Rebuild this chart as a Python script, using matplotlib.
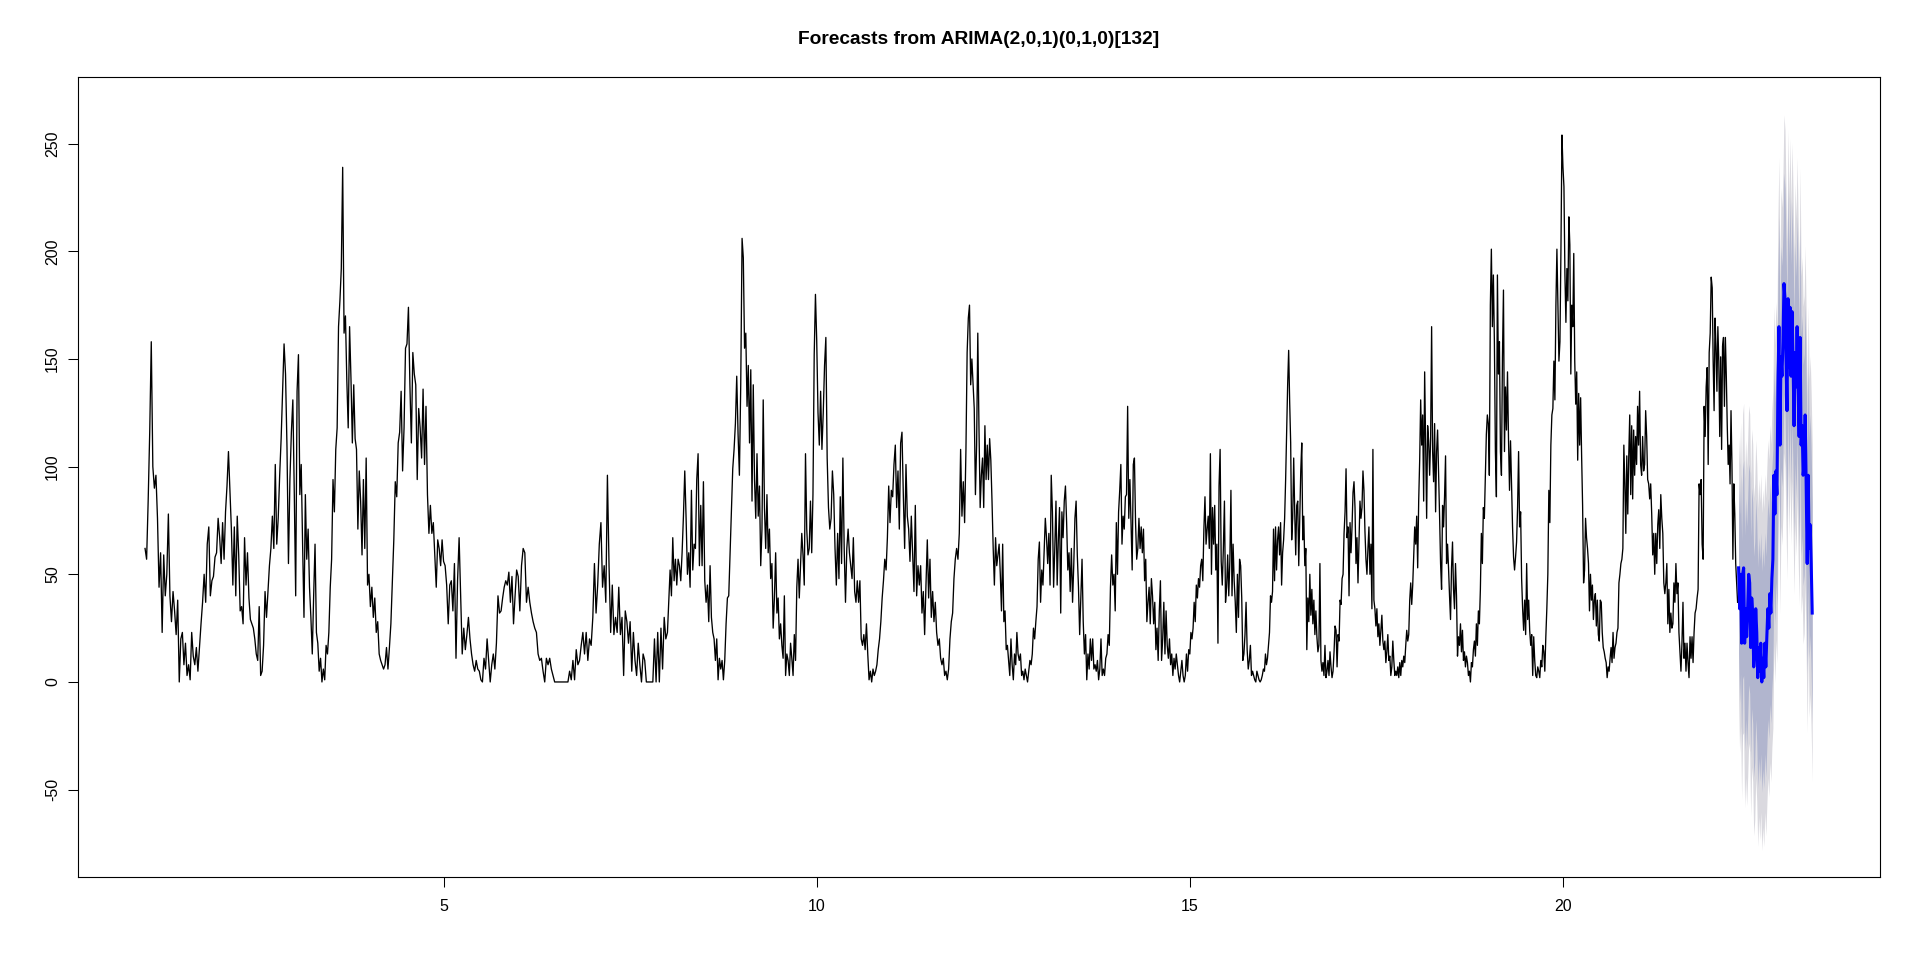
import numpy as np
import matplotlib.pyplot as plt

plt.rcParams['font.family'] = ['Liberation Sans', 'DejaVu Sans']

# observed series, one list per season (frequency 1 unit on the x axis),
# values read off the reference picture
s01 = [62, 57, 84, 116, 158, 100, 90, 96, 76, 44, 60, 23, 59, 40, 50, 78, 40, 28, 42, 33,
       22, 38, 0, 20, 23, 8, 18, 3, 8, 1, 23, 12, 8, 16, 5, 16, 27, 37, 50, 37,
       64, 72, 40, 47, 49, 58, 60, 76]
s02 = [67, 55, 74, 57, 79, 91, 107, 89, 71, 45, 72, 40, 77, 59, 33, 35, 27, 67, 45, 60,
       39, 29, 27, 25, 20, 13, 10, 35, 3, 5, 17, 42, 30, 42, 54, 62, 77, 62, 101, 64,
       76, 96, 113, 135, 157, 143, 109, 55, 94, 116, 131]
s03 = [87, 40, 135, 152, 87, 101, 64, 30, 87, 57, 71, 44, 30, 13, 40, 64, 23, 18, 5, 11,
       0, 6, 1, 17, 13, 23, 44, 57, 94, 79, 108, 118, 165, 177, 192, 239, 162, 170, 140, 118,
       165, 141, 111, 138, 113, 108, 71, 98, 84, 59, 94, 62, 104, 45]
s04 = [50, 35, 44, 30, 39, 23, 28, 13, 10, 8, 6, 8, 16, 6, 16, 27, 47, 66, 93, 86,
       111, 116, 135, 98, 118, 155, 157, 174, 138, 111, 153, 143, 138, 94, 127, 118, 104, 136, 101, 128,
       87, 69, 82, 69, 74, 59, 44, 66, 62, 54, 66]
s05 = [56, 54, 45, 27, 45, 47, 33, 55, 11, 47, 67, 39, 13, 25, 15, 22, 30, 20, 13, 8,
       5, 10, 6, 5, 1, 0, 11, 6, 20, 10, 0, 8, 13, 6, 18, 40, 32, 33, 39, 44,
       47, 45, 51, 37, 49, 27, 40, 52]
s06 = [49, 33, 54, 62, 60, 37, 44, 37, 32, 28, 25, 23, 13, 10, 11, 5, 0, 11, 8, 11,
       6, 3, 0, 0, 0, 0, 0, 0, 0, 0, 0, 5, 1, 10, 1, 15, 8, 10, 17, 23,
       13, 23, 10, 20, 17]
s07 = [30, 55, 32, 45, 64, 74, 44, 54, 37, 96, 54, 23, 45, 22, 30, 23, 44, 22, 30, 3,
       33, 28, 18, 28, 5, 23, 10, 3, 18, 8, 0, 13, 10, 0, 0, 0, 0, 0, 20, 0,
       23, 0, 25, 6, 30, 20]
s08 = [23, 37, 52, 40, 67, 47, 57, 45, 57, 54, 47, 60, 77, 98, 76, 50, 60, 44, 89, 52,
       64, 62, 94, 106, 54, 82, 54, 93, 47, 37, 45, 28, 54, 30, 23, 20, 10, 20, 1, 11,
       6, 10, 1, 10, 27, 39, 40, 60, 79, 99, 108, 120, 142, 115, 96, 138]
s09 = [206, 197, 155, 162, 128, 147, 111, 145, 84, 138, 94, 76, 106, 77, 91, 54, 71, 131, 81, 62,
       87, 60, 71, 48, 55, 25, 39, 60, 32, 39, 20, 27, 17, 11, 40, 3, 13, 10, 3, 18,
       11, 3, 22, 10, 44, 57, 39, 54, 69, 59, 45, 106, 71, 59, 62, 84, 60, 87, 152, 180]
s10 = [159, 125, 110, 135, 108, 125, 147, 160, 104, 81, 71, 76, 98, 87, 62, 45, 69, 48, 86, 55,
       104, 62, 37, 62, 71, 60, 54, 48, 67, 42, 37, 47, 37, 47, 20, 17, 22, 15, 27, 13,
       1, 5, 0, 6, 3, 5, 8, 15, 20, 28, 39, 47, 57, 52, 67, 91, 74]
s11 = [89, 86, 101, 110, 81, 98, 71, 111, 116, 87, 62, 101, 77, 71, 56, 77, 60, 42, 82, 40,
       54, 45, 54, 32, 42, 22, 45, 66, 39, 57, 30, 42, 28, 37, 23, 17, 20, 11, 8, 11,
       3, 5, 1, 6, 20, 28, 32, 48, 57, 62, 57, 69, 108, 77, 93, 74]
s12 = [108, 153, 169, 175, 138, 150, 138, 127, 87, 110, 162, 118, 81, 96, 104, 81, 119, 94, 110, 94,
       113, 103, 84, 62, 45, 67, 54, 59, 64, 50, 33, 64, 28, 33, 15, 17, 10, 3, 20, 8,
       1, 13, 8, 23, 13, 10, 13, 3, 5, 1, 6, 3, 0, 5, 10, 8, 13, 25, 20, 28,
       35, 57, 65]
s13 = [37, 52, 45, 60, 76, 67, 55, 69, 45, 96, 79, 44, 62, 84, 45, 66, 81, 32, 79, 67,
       84, 91, 74, 52, 60, 42, 62, 37, 54, 76, 84, 59, 44, 22, 40, 57, 28, 13, 22, 1,
       13, 6, 20, 10, 20, 6, 8, 5, 10, 1, 6, 20, 3, 6, 3, 11, 13, 22, 17, 44,
       59, 45, 50]
s14 = [33, 74, 50, 79, 89, 101, 64, 77, 71, 86, 87, 128, 76, 94, 74, 52, 101, 104, 74, 57,
       62, 76, 62, 72, 60, 71, 47, 57, 28, 37, 44, 27, 48, 40, 27, 37, 15, 25, 10, 33,
       47, 10, 20, 37, 13, 33, 17, 11, 20, 8, 13, 3, 11, 6, 13, 8, 3, 0, 5, 10,
       3, 0, 3, 13, 5, 15]
s15 = [13, 23, 20, 25, 37, 28, 45, 39, 48, 44, 54, 57, 47, 71, 86, 64, 71, 77, 62, 106,
       50, 81, 64, 82, 52, 64, 18, 91, 108, 56, 45, 62, 84, 37, 44, 59, 40, 56, 89, 40,
       64, 47, 37, 23, 50, 30, 57, 54, 39, 10, 13, 22, 37, 15, 6, 10, 17, 3, 5, 3,
       1, 0, 5, 3, 1, 0, 1, 3, 6]
s16 = [5, 13, 8, 11, 17, 23, 40, 37, 42, 71, 47, 72, 52, 66, 72, 59, 74, 45, 60, 66,
       76, 94, 115, 138, 154, 130, 111, 66, 76, 104, 79, 59, 82, 84, 54, 77, 98, 111, 66, 77,
       54, 62, 15, 39, 28, 50, 31, 43, 27, 38, 22, 33, 21, 14, 17, 55, 10, 5, 9, 3,
       17, 2, 5, 10, 3, 14, 7, 2, 5, 14, 26, 24, 7, 22]
s17 = [19, 38, 36, 48, 50, 69, 79, 99, 67, 72, 40, 74, 60, 72, 88, 93, 81, 55, 67, 46,
       65, 84, 76, 81, 98, 89, 70, 57, 50, 62, 72, 50, 64, 34, 108, 38, 34, 26, 34, 21,
       27, 17, 24, 31, 19, 15, 19, 9, 14, 22, 10, 12, 3, 7, 19, 10, 3, 5, 3, 7,
       2, 9, 3, 10, 7, 12, 9, 17, 24, 19, 22, 38, 46, 36, 45]
s18 = [58, 72, 64, 77, 53, 84, 103, 131, 110, 124, 84, 144, 110, 76, 119, 112, 96, 113, 165, 107,
       93, 120, 79, 107, 117, 98, 77, 55, 43, 82, 72, 86, 105, 55, 64, 53, 40, 29, 53, 65,
       43, 34, 55, 40, 12, 21, 17, 27, 14, 24, 10, 14, 7, 12, 9, 3, 5, 0, 9, 7,
       15, 19, 12, 27, 17, 33, 27, 43, 69, 55, 81, 76, 95, 115, 124]
s19 = [120, 96, 175, 201, 165, 189, 158, 107, 86, 189, 143, 158, 107, 96, 151, 182, 107, 137, 117, 144,
       113, 89, 112, 93, 72, 58, 52, 58, 65, 81, 107, 72, 79, 48, 34, 24, 38, 22, 55, 29,
       38, 24, 17, 22, 3, 21, 10, 3, 2, 7, 5, 2, 10, 7, 17, 14, 5, 21, 34, 50,
       89, 74, 110, 124, 127, 149, 131, 175, 201, 175, 149, 158, 201, 254]
s20 = [239, 230, 189, 167, 192, 177, 216, 203, 143, 175, 165, 199, 149, 129, 144, 103, 134, 110, 132, 105,
       82, 46, 52, 76, 67, 62, 55, 33, 50, 38, 45, 29, 38, 41, 26, 38, 22, 19, 38, 37,
       23, 16, 14, 11, 9, 2, 7, 5, 11, 16, 9, 23, 11, 16, 18, 23, 25, 46, 50, 55,
       57, 62, 110, 92, 69, 105, 78, 105, 124, 87, 119, 85, 117, 96, 114, 101]
s21 = [128, 110, 135, 101, 96, 114, 98, 101, 126, 114, 94, 92, 85, 92, 78, 59, 69, 50, 69, 55,
       73, 80, 62, 87, 76, 69, 46, 41, 46, 55, 27, 43, 23, 32, 25, 27, 46, 37, 55, 41,
       46, 23, 14, 5, 18, 37, 11, 18, 5, 18, 9, 2, 21, 11, 21, 9, 23, 32, 34, 39,
       43, 92, 87, 94, 64, 57, 128, 114, 137, 146, 101, 153, 162, 188]
# last, incomplete season (22.0 .. 22.34)
s22 = [183, 149, 126, 169, 156, 135, 165, 149, 114, 151, 108, 156, 160, 128, 160, 142, 119, 101, 110, 92,
       126, 101, 57, 92, 78, 55, 46, 37]

seasons = [s01, s02, s03, s04, s05, s06, s07, s08, s09, s10, s11,
           s12, s13, s14, s15, s16, s17, s18, s19, s20, s21]

# point forecasts (22.35 .. 23.35)
fc_mean = [53, 34, 50, 18, 50, 53, 18, 34, 21, 34, 50, 46, 16, 39, 32, 7, 14, 34, 23, 2,
           16, 5, 18, 0, 11, 2, 18, 7, 21, 34, 25, 41, 32, 48, 57, 96, 78, 98, 87, 137,
           165, 110, 151, 142, 158, 185, 178, 151, 126, 178, 146, 174, 142, 172, 149, 119, 153, 137, 165, 137,
           114, 160, 110, 119, 96, 101, 124, 92, 55, 96, 62, 73, 55, 32]
# forecast standard error per step
fc_sigma = [31, 34, 36, 37, 38, 39, 39, 40, 40, 40,
            40, 40, 40, 40, 40, 40, 40, 40, 40, 40,
            40, 40, 40, 40, 40, 40, 40, 40, 40, 40,
            40, 40, 40, 40, 40, 40, 40, 40, 40, 40,
            40, 40, 40, 40, 40, 40, 40, 40, 40, 40,
            40, 40, 40, 40, 40, 40, 40, 40, 40, 40,
            40, 40, 40, 40, 40, 40, 40, 40, 40, 40,
            40, 40, 40, 40]
levels = {80: 1.2816, 95: 1.96}

title = "Forecasts from ARIMA(2,0,1)(0,1,0)[132]"
x_ticks = [5, 10, 15, 20]
y_ticks = [-50, 0, 50, 100, 150, 200, 250]

# ---- build time axis
hist_t, hist_y = [], []
for k, vals in enumerate(seasons, start=1):
    n = len(vals)
    hist_t.extend(k + np.arange(n) / n)
    hist_y.extend(vals)
tail_span = 0.34
hist_t.extend(22 + np.linspace(0, tail_span, len(s22)))
hist_y.extend(s22)

fc_mean = np.array(fc_mean, dtype=float)
fc_sigma = np.array(fc_sigma, dtype=float)
fc_t = 22 + tail_span + np.arange(1, len(fc_mean) + 1) / len(fc_mean)

fig = plt.figure(figsize=(19.2, 9.76), dpi=100)
ax = fig.add_axes([0.0408, 0.1016, 0.9382, 0.8194])

ax.plot(hist_t, hist_y, color="black", lw=0.95)
hw95 = levels[95] * fc_sigma
hw80 = levels[80] * fc_sigma
ax.fill_between(fc_t, fc_mean - hw95, fc_mean + hw95, color="#DAD9DF", lw=0, antialiased=False)
ax.fill_between(fc_t, fc_mean - hw80, fc_mean + hw80, color="#B1B5CE", lw=0, antialiased=False)
ax.plot(fc_t, fc_mean, color="#0000FF", lw=2.2)

ax.set_xlim(0.106, 24.244)
ax.set_ylim(-90.5, 280.9)
ax.set_xticks(x_ticks)
ax.set_yticks(y_ticks)
ax.set_xticklabels([str(v) for v in x_ticks])
ax.set_yticklabels([str(v) for v in y_ticks], rotation=90, va="center")
ax.tick_params(direction="out", length=7.2, width=0.75, labelsize=11.5, color="black")
ax.tick_params(axis="x", pad=9)
ax.tick_params(axis="y", pad=6)
for sp in ax.spines.values():
    sp.set_linewidth(0.8)
    sp.set_color("black")

fig.text(0.5099, 0.96, title, ha="center", va="center", fontsize=13.8, fontweight="bold")

fig.savefig("out.png", dpi=100, facecolor="white")
